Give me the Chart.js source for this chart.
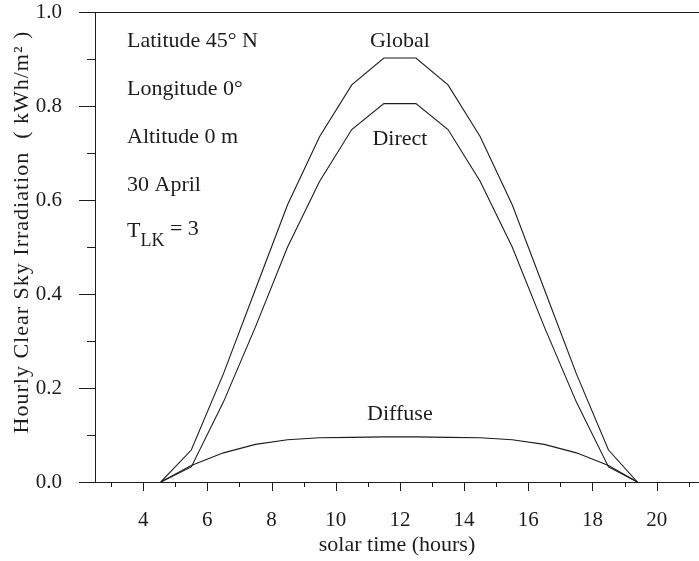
<!DOCTYPE html>
<html>
<head>
<meta charset="utf-8">
<script src="https://cdn.jsdelivr.net/npm/chart.js@4"></script>
<style>
  html, body { margin: 0; padding: 0; background: #fff; }
  canvas { display: block; }
</style>
</head>
<body>
<canvas id="sunChart" width="699" height="561"></canvas>
<script>
// hourly clear sky irradiation, 30 April, lat 45N
const hours   = [4.55, 5.5, 6.5, 7.5, 8.5, 9.5, 10.5, 11.5, 12.5, 13.5, 14.5, 15.5, 16.5, 17.5, 18.5, 19.4];
const globalIrr  = [0, 0.068, 0.23, 0.41, 0.59, 0.735, 0.845, 0.902, 0.902, 0.845, 0.735, 0.59, 0.41, 0.23, 0.068, 0];
const directIrr  = [0, 0.032, 0.17, 0.33, 0.50, 0.64, 0.75, 0.805, 0.805, 0.75, 0.64, 0.50, 0.33, 0.17, 0.032, 0];
const diffuseIrr = [0, 0.035, 0.062, 0.080, 0.090, 0.094, 0.095, 0.096, 0.096, 0.095, 0.094, 0.090, 0.080, 0.062, 0.035, 0];

const seriesNames = ['Global', 'Direct', 'Diffuse'];
const infoLines = ['Latitude 45° N', 'Longitude 0°', 'Altitude 0 m', '30 April'];
const yTitle = 'Hourly Clear Sky Irradiation  ( kWh/m² )';

const SERIF = "'Liberation Serif', 'DejaVu Serif', serif";
const INK = '#1c1c1c';

const toPoints = (ys) => hours.map((h, i) => ({ x: h, y: ys[i] }));

// tick marks drawn by hand: long for labelled ticks, short for the others
const axisTicks = {
    id: 'axisTicks',
    afterDraw(chart) {
        const { ctx, chartArea: area, scales: { x, y } } = chart;
        ctx.save();
        ctx.strokeStyle = INK;
        ctx.lineWidth = 1;
        ctx.beginPath();
        y.ticks.forEach(t => {
            const py = Math.round(y.getPixelForValue(t.value)) + 0.5;
            const major = Math.round(t.value * 10) % 2 === 0;
            ctx.moveTo(area.left - (major ? 16 : 8), py);
            ctx.lineTo(area.left, py);
        });
        x.ticks.forEach(t => {
            const px = Math.round(x.getPixelForValue(t.value)) + 0.5;
            const major = t.value % 2 === 0;
            ctx.moveTo(px, area.bottom);
            ctx.lineTo(px, area.bottom + (major ? 9 : 5));
        });
        // top frame line
        ctx.moveTo(area.left, area.top + 0.5);
        ctx.lineTo(area.right, area.top + 0.5);
        ctx.stroke();
        ctx.restore();
    }
};

// texts inside the plot + the (wide spaced) y title
const plotTexts = {
    id: 'plotTexts',
    afterDraw(chart) {
        const { ctx, chartArea: area, scales: { x, y } } = chart;
        ctx.save();
        ctx.fillStyle = INK;
        ctx.font = `22px ${SERIF}`;
        ctx.textAlign = 'left';
        ctx.textBaseline = 'alphabetic';
        const left = area.left + 32;
        infoLines.forEach((txt, i) => ctx.fillText(txt, left, area.top + 35 + i * 48));

        // T_LK = 3
        const base = area.top + 35 + 4 * 48 - 2;
        ctx.fillText('T', left, base);
        let w = ctx.measureText('T').width;
        ctx.font = `18px ${SERIF}`;
        ctx.fillText('LK', left + w, base + 9);
        w += ctx.measureText('LK').width;
        ctx.font = `22px ${SERIF}`;
        ctx.fillText(' = 3', left + w, base - 2);

        // curve names
        ctx.textAlign = 'center';
        ctx.textBaseline = 'middle';
        const anchors = [[12, 0.938], [12, 0.73], [12, 0.145]];
        seriesNames.forEach((name, i) => {
            ctx.fillText(name, x.getPixelForValue(anchors[i][0]), y.getPixelForValue(anchors[i][1]));
        });

        // y title
        ctx.translate(22, area.top + 220);
        ctx.rotate(-Math.PI / 2);
        ctx.letterSpacing = '1px';
        ctx.fillText(yTitle, 0, 0);
        ctx.restore();
    }
};

const ctx = document.getElementById('sunChart').getContext('2d');
new Chart(ctx, {
    type: 'line',
    data: {
        datasets: [
            { label: seriesNames[0], data: toPoints(globalIrr) },
            { label: seriesNames[1], data: toPoints(directIrr) },
            { label: seriesNames[2], data: toPoints(diffuseIrr) }
        ]
    },
    options: {
        responsive: false,
        animation: false,
        layout: { padding: { top: 12, right: 0, left: 0, bottom: 0 } },
        plugins: { legend: { display: false }, tooltip: { enabled: false } },
        elements: {
            point: { radius: 0 },
            line: { tension: 0, borderWidth: 1.1, borderColor: INK, fill: false }
        },
        scales: {
            x: {
                type: 'linear',
                min: 2.5,
                max: 21.32,
                afterFit: s => {
                    s.height = 79;
                    s.paddingLeft = 0;
                    s.paddingRight = 0;
                },
                afterBuildTicks: s => {
                    const list = [];
                    for (let v = 3; v <= 21; v++) list.push({ value: v });
                    s.ticks = list;
                },
                grid: { drawOnChartArea: false, drawTicks: false },
                border: { color: INK, width: 1 },
                ticks: {
                    autoSkip: false,
                    maxRotation: 0,
                    padding: 26,
                    color: INK,
                    font: { family: SERIF, size: 21 },
                    callback: v => (v % 2 === 0 ? String(v) : '')
                },
                title: {
                    display: true,
                    text: 'solar time (hours)',
                    color: INK,
                    font: { family: SERIF, size: 22 },
                    padding: { top: 0, bottom: 3 }
                }
            },
            y: {
                min: 0,
                max: 1,
                afterFit: s => {
                    s.width = 95;
                    s.paddingTop = 0;
                    s.paddingBottom = 0;
                },
                grid: { drawOnChartArea: false, drawTicks: false },
                border: { color: INK, width: 1 },
                ticks: {
                    stepSize: 0.1,
                    padding: 33,
                    color: INK,
                    font: { family: SERIF, size: 21 },
                    callback: v => (Math.round(v * 10) % 2 === 0 ? v.toFixed(1) : '')
                },
                title: { display: false }
            }
        }
    },
    plugins: [axisTicks, plotTexts]
});
</script>
</body>
</html>
